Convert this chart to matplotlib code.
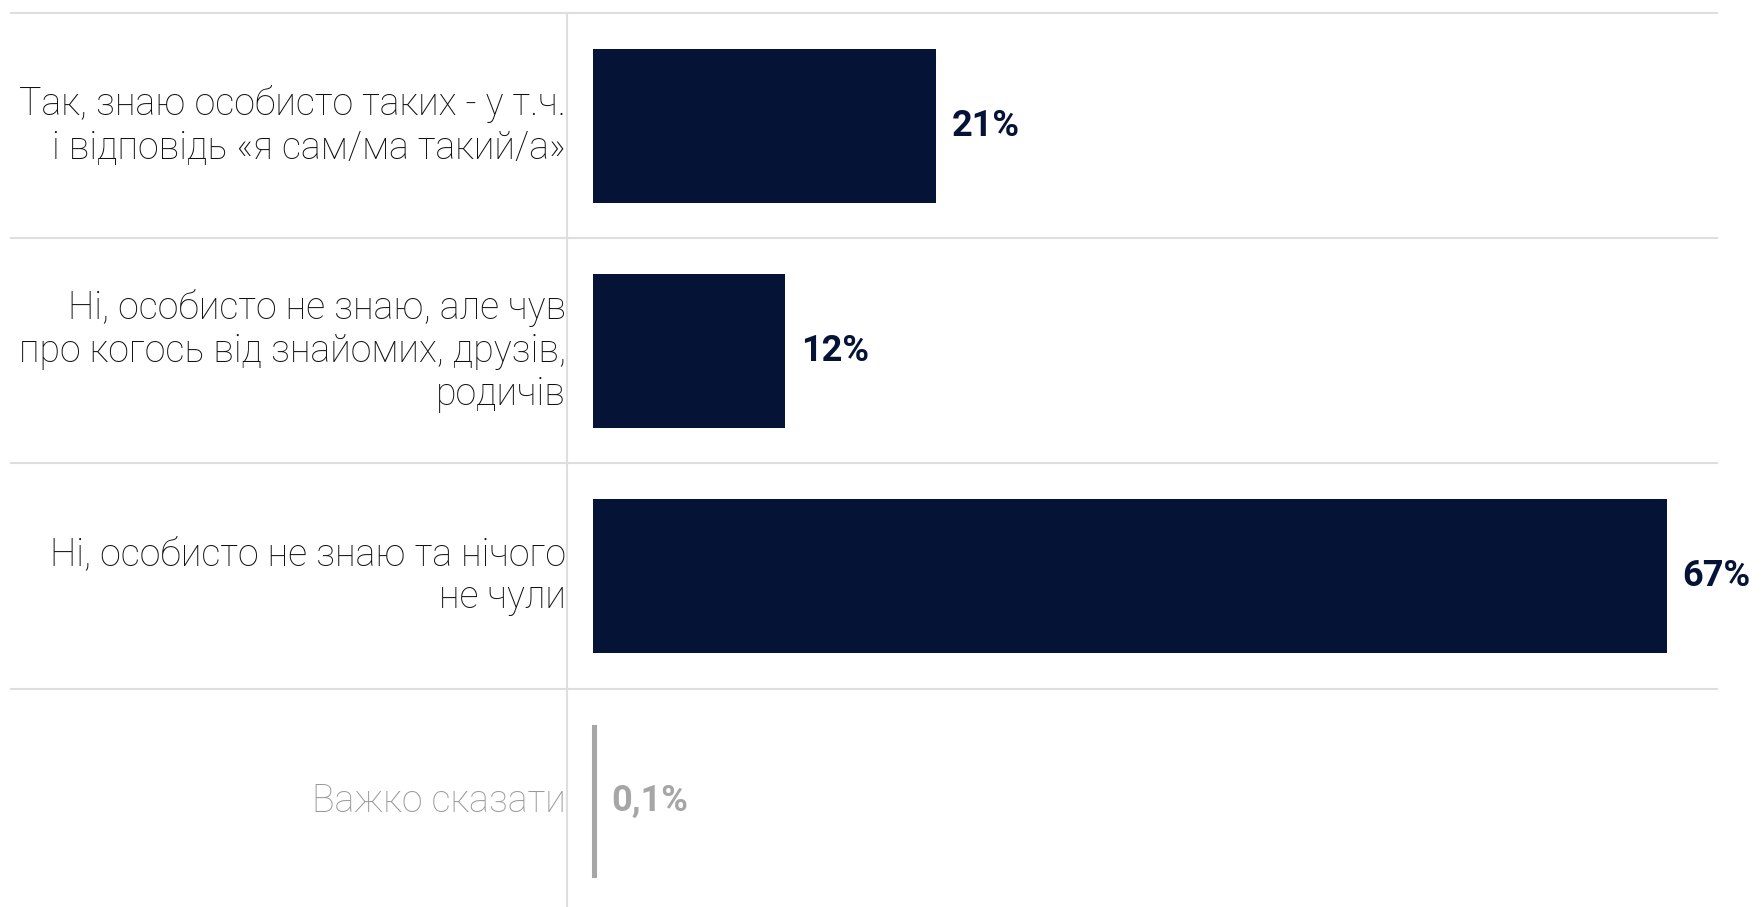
import matplotlib
matplotlib.use('Agg')
import matplotlib.pyplot as plt

# answers (top to bottom) and shares, %
LABELS = [
    'Так, знаю особисто таких - у т.ч.\nі відповідь «я сам/ма такий/а»',
    'Ні, особисто не знаю, але чув\nпро когось від знайомих, друзів,\nродичів',
    'Ні, особисто не знаю та нічого\nне чули',
    'Важко сказати',
]
VALUES = [21.4, 12, 67, 0.1]
VALUE_TEXT = ['21%', '12%', '67%', '0,1%']
MUTED = [False, False, False, True]

NAVY = '#051336'
GREY = '#a6a6a6'
GRID = '#dedede'
FONT = ['Roboto', 'DejaVu Sans']

W, H = 1762, 907
fig = plt.figure(figsize=(W / 100, H / 100), dpi=100, facecolor='white')

ax_l, ax_r, ax_top = 567, 1717, 13.5
row_h = 225
ax = fig.add_axes([ax_l / W, 0, (ax_r - ax_l) / W, 1 - ax_top / H])

px_per_unit = 16.03
x0 = -26 / px_per_unit
ax.set_xlim(x0, x0 + (ax_r - ax_l) / px_per_unit)
ax.set_ylim(-0.5 + (H - ax_top) / row_h, -0.5)

ys = list(range(len(VALUES)))
for y, v, t, m in zip(ys, VALUES, VALUE_TEXT, MUTED):
    if m:
        ax.barh(y, v, height=0.67, color=GREY, edgecolor=GREY, lw=2.2)
    else:
        ax.barh(y, v, height=0.684, color=NAVY, lw=0)
    ax.annotate(t, (v, y), xytext=(12 if m else 11, 0), textcoords='offset points',
                va='center', ha='left', fontsize=26, fontweight='bold',
                color=GREY if m else NAVY, family=FONT, annotation_clip=False)

# category labels to the left of the axis line
for y, lab, m in zip(ys, LABELS, MUTED):
    ax.text(-0.001, y, lab, transform=ax.get_yaxis_transform(), ha='right', va='center',
            multialignment='right', fontsize=27, fontweight='light', linespacing=1.2,
            color='#999999' if m else '#111111', family=FONT)

# row separators, running under the labels too
left_ext = (11 - ax_l) / (ax_r - ax_l)
for b in [-0.5, 0.5, 1.5, 2.5]:
    ax.plot([left_ext, 1], [b, b], transform=ax.get_yaxis_transform(), color=GRID,
            lw=1.5, clip_on=False, zorder=0)

for s in ['top', 'right', 'bottom']:
    ax.spines[s].set_visible(False)
ax.spines['left'].set_color(GRID)
ax.spines['left'].set_linewidth(1.5)
ax.set_xticks([])
ax.set_yticks([])
ax.patch.set_visible(False)

fig.savefig('out.png', dpi=100, facecolor='white')
